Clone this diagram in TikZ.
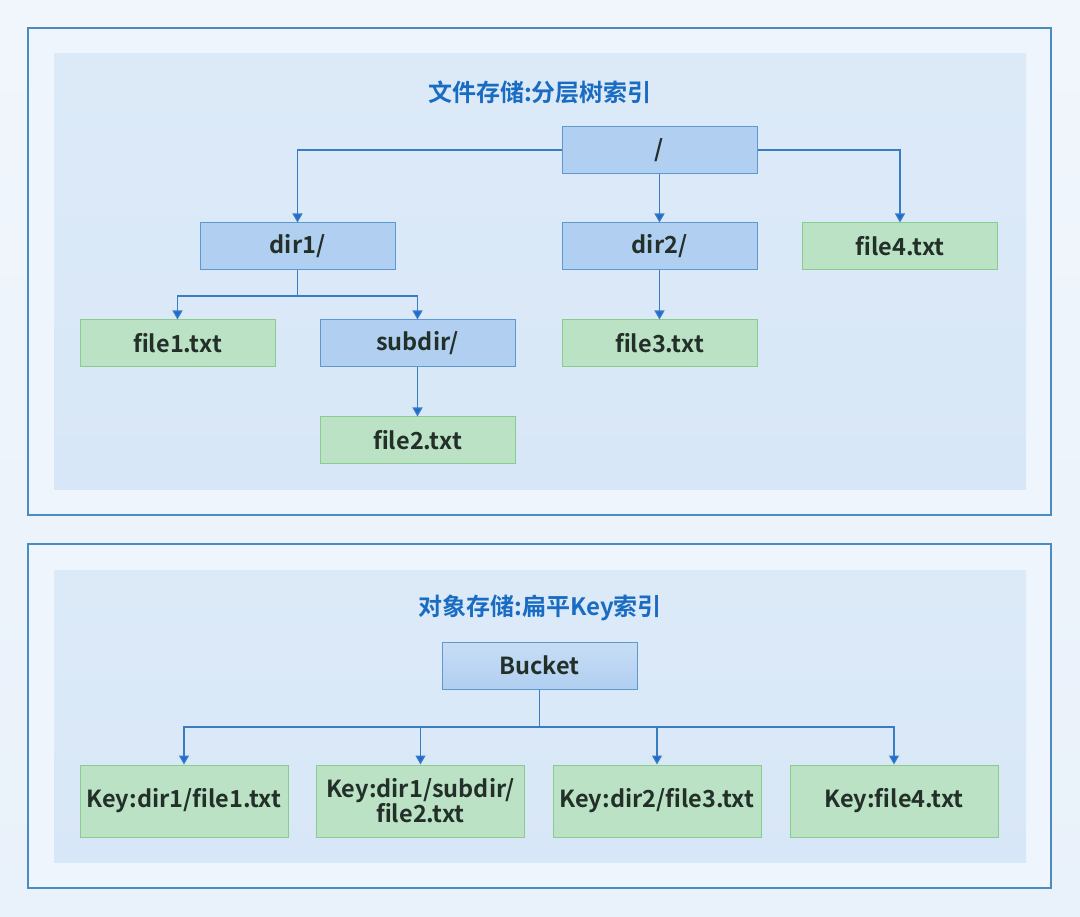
\documentclass[tikz,border=0pt]{standalone}
\usepackage{fontspec}
\setmainfont{Noto Sans CJK SC}[BoldFont={Noto Sans CJK SC Bold}]
\usetikzlibrary{arrows.meta}
\definecolor{bgc}{HTML}{E9F1FA}
\definecolor{bgtop}{HTML}{F1F6FC}
\definecolor{framec}{HTML}{4A8CC0}
\definecolor{framefill}{HTML}{EEF5FC}
\definecolor{panelc}{HTML}{D8E7F7}
\definecolor{paneltop}{HTML}{DCEAF8}
\definecolor{bluefill}{HTML}{B0CFF1}
\definecolor{blueedge}{HTML}{5E98D2}
\definecolor{greenfill}{HTML}{BCE2C6}
\definecolor{greenedge}{HTML}{8ACB8E}
\definecolor{linec}{HTML}{3A7CC4}
\definecolor{tipc}{HTML}{1E6CD0}
\definecolor{titlec}{HTML}{1A6CC2}
\definecolor{textc}{HTML}{23302A}
\tikzset{
  boxbase/.style={minimum width=195pt, minimum height=47pt, inner sep=0pt, font=\bfseries\fontsize{23.5}{26}\selectfont, text=textc, line width=1pt},
  dirbox/.style={boxbase, draw=blueedge, fill=bluefill},
  filebox/.style={boxbase, draw=greenedge, fill=greenfill},
  keybox/.style={boxbase, draw=greenedge, fill=greenfill, minimum width=208pt, minimum height=72pt, align=center, font=\bfseries\fontsize{23.5}{25}\selectfont},
  conn/.style={draw=linec, line width=1.2pt, -{Triangle[width=10pt,length=9pt,fill=tipc]}},
  plainconn/.style={draw=linec, line width=1.2pt},
  titlestyle/.style={font=\bfseries\fontsize{24}{26}\selectfont, text=titlec},
  frame/.style={draw=framec, line width=1.2pt, fill=framefill},
  panel/.style={top color=paneltop, bottom color=panelc}
}
\begin{document}
\begin{tikzpicture}[x=1pt,y=-1pt]
\useasboundingbox (0,0) rectangle (1080,917);
\shade[top color=bgtop, bottom color=bgc] (0,0) rectangle (1080,917);
% frames
\draw[frame] (28,28) rectangle (1051,515);
\shade[panel] (54,54) rectangle (1026,489);
\draw[frame] (28,544) rectangle (1051,888);
\shade[panel] (54,570) rectangle (1026,862);
% titles
\node[titlestyle] (t1) at (540,92) {文件存储:分层树索引};
\node[titlestyle] (t2) at (540,608) {对象存储:扁平Key索引};
% top tree
\node[dirbox] (root) at (659.5,150) {/};
\node[dirbox] (dir1) at (297.5,246.5) {dir1/};
\node[dirbox] (dir2) at (659.5,246.5) {dir2/};
\node[filebox] (f4) at (900,246.5) {file4.txt};
\node[filebox] (f1) at (177.5,343.5) {file1.txt};
\node[dirbox] (sub) at (417.5,343.5) {subdir/};
\node[filebox] (f3) at (659.5,343.5) {file3.txt};
\node[filebox] (f2) at (417.5,440.5) {file2.txt};
\draw[conn] (root.west) -| (dir1.north);
\draw[conn] (root.east) -| (f4.north);
\draw[conn] (root.south) -- (dir2.north);
\coordinate (j1) at (297.5,296);
\draw[plainconn] (dir1.south) -- (j1);
\draw[conn] (j1) -| (f1.north);
\draw[conn] (j1) -| (sub.north);
\draw[conn] (sub.south) -- (f2.north);
\draw[conn] (dir2.south) -- (f3.north);
% bottom
\node[dirbox, top color=bluefill!70!white, bottom color=bluefill, shading angle=0] (bucket) at (539.5,665.5) {Bucket};
\node[keybox] (k1) at (184,801) {Key:dir1/file1.txt};
\node[keybox] (k2) at (420.5,801) {Key:dir1/subdir/\\file2.txt};
\node[keybox] (k3) at (657,801) {Key:dir2/file3.txt};
\node[keybox] (k4) at (894,801) {Key:file4.txt};
\coordinate (j2) at (539.5,727);
\draw[plainconn] (bucket.south) -- (j2);
\draw[conn] (j2) -| (k1.north);
\draw[conn] (j2) -| (k2.north);
\draw[conn] (j2) -| (k3.north);
\draw[conn] (j2) -| (k4.north);
\end{tikzpicture}
\end{document}
